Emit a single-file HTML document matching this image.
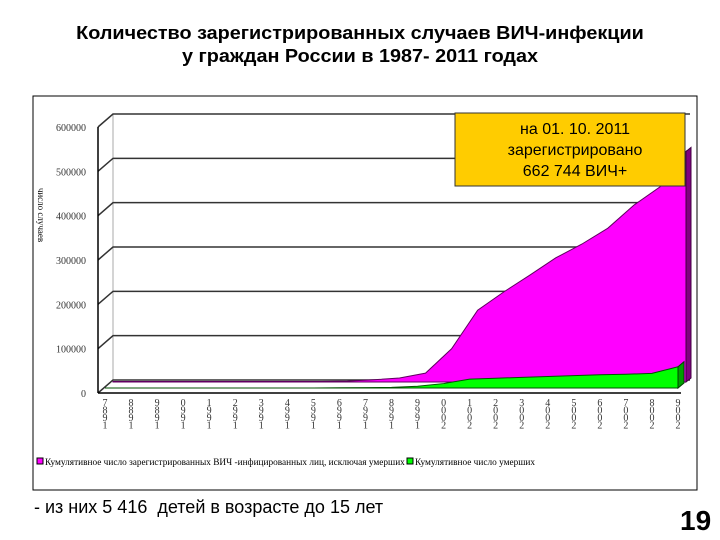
<!DOCTYPE html>
<html><head><meta charset="utf-8"><style>
body{margin:0;width:720px;height:540px;background:#fff;overflow:hidden;position:relative;font-family:"Liberation Sans",sans-serif}
#title{position:absolute;left:0;top:22px;width:720px;text-align:center;font-weight:bold;font-size:18px;line-height:23px;color:#000;transform:scaleX(1.1);transform-origin:360px 0}
#note{position:absolute;left:34px;top:497px;font-size:18px}
#page{position:absolute;left:680px;top:505px;font-size:28px;font-weight:bold}
</style></head><body>
<div id="title">Количество зарегистрированных случаев ВИЧ-инфекции<br>у граждан России в 1987- 2011 годах</div>
<svg id="chart" width="720" height="540" style="position:absolute;left:0;top:0">
<rect x="33" y="96" width="664" height="394" fill="#fff" stroke="#000" stroke-width="1"/>
<g id="g"></g>
</svg>
<div id="note">- из них 5 416&nbsp; детей в возрасте до 15 лет</div>
<div id="page">19</div>
<script>
const years=[1987,1988,1989,1990,1991,1992,1993,1994,1995,1996,1997,1998,1999,2000,2001,2002,2003,2004,2005,2006,2007,2008,2009];
const living=[1000,1000,1000,1000,1000,1000,1000,1000,1000,2000,5000,9000,20000,75000,162000,203000,241000,280000,311000,347000,399000,440000,520000];
const deaths=[0,0,0,0,0,0,0,0,0,500,800,1500,4000,10000,20000,22000,24000,26000,28000,30000,31000,33000,48000];
const yTicks=[0,100000,200000,300000,400000,500000,600000];
const NS="http://www.w3.org/2000/svg";
const g=document.getElementById('g');
const x0=105,dx=(678-105)/22,y0=393,k=266/600000,ox=15,oy=-13;
const X=i=>x0+i*dx, Y=v=>y0-v*k;
function el(t,a){const e=document.createElementNS(NS,t);for(const n in a)e.setAttribute(n,a[n]);g.appendChild(e);return e;}
let w=el('path',{d:`M98,${Y(0)} L${98+ox},${Y(0)+oy} L${98+ox},${Y(600000)+oy} M${98+ox},${Y(0)+oy} L690,${Y(0)+oy}`,fill:'none',stroke:'#aaa'});

yTicks.forEach(v=>{
 const l=el('path',{d:`M98,${Y(v)} L${98+ox},${Y(v)+oy} L690,${Y(v)+oy}`,fill:'none',stroke:'#333','stroke-width':1.5});
 
 const t=el('text',{x:86,y:Y(v)+4,'text-anchor':'end','font-size':10,'font-family':'Liberation Serif, serif',fill:'#333'});t.textContent=v;
 
});
const ax=el('line',{x1:98,y1:Y(0),x2:98,y2:Y(600000),stroke:'#000','stroke-width':1.5});

const yt=el('text',{x:0,y:0,transform:'translate(38,215) rotate(90)','text-anchor':'middle','font-size':9,'font-family':'Liberation Serif, serif'});yt.textContent='число случаев';

const mb=8,mo=-11;
let d=`M${X(0)+mb},${Y(0)+mo}`;living.forEach((v,i)=>d+=` L${X(i)+mb},${Y(v)+mo}`);d+=` L${X(22)+mb},${Y(0)+mo}Z`;
const m=el('path',{d,fill:'#ff00ff',stroke:'#600060','stroke-width':1});

const ms=el('path',{d:`M${X(22)+mb},${Y(living[22])+mo} L${X(22)+mb+5},${Y(living[22])+mo-4} L${X(22)+mb+5},${Y(0)+mo-4} L${X(22)+mb},${Y(0)+mo}Z`,fill:'#800080',stroke:'#400040'});

const go=-5;
d=`M${X(0)},${Y(0)+go}`;deaths.forEach((v,i)=>d+=` L${X(i)},${Y(v)+go}`);d+=` L${X(22)},${Y(0)+go}Z`;
const gr=el('path',{d,fill:'#00ff00',stroke:'#005000','stroke-width':1});

const gs=el('path',{d:`M${X(22)},${Y(deaths[22])+go} L${X(22)+6},${Y(deaths[22])+go-5} L${X(22)+6},${Y(0)+go-5} L${X(22)},${Y(0)+go}Z`,fill:'#00a000',stroke:'#004000'});

const xa=el('line',{x1:98,y1:Y(0),x2:X(22)+3,y2:Y(0),stroke:'#000','stroke-width':1.5});

years.forEach((yr,i)=>{
 const s=String(yr).split('').reverse();
 s.forEach((c,j)=>{const t=el('text',{x:X(i),y:Y(0)+13+j*7.5,'text-anchor':'middle','font-size':10,'font-family':'Liberation Serif, serif',fill:'#333'});t.textContent=c;
 });
});
const br=el('rect',{x:455,y:113,width:230,height:73,fill:'#ffcc00',stroke:'#333'});

['на   01. 10. 2011','зарегистрировано','662 744 ВИЧ+'].forEach((s,i)=>{const t=el('text',{x:575,y:134+i*21,'text-anchor':'middle','font-size':16,'font-family':'Liberation Sans, sans-serif','xml:space':'preserve'});t.textContent=s;
 });
const l1=el('rect',{x:37,y:458,width:6,height:6,fill:'#ff00ff',stroke:'#000'});

const t1=el('text',{x:45,y:465,'font-size':9.3,'font-family':'Liberation Serif, serif'});t1.textContent='Кумулятивное число зарегистрированных ВИЧ -инфицированных  лиц, исключая умерших';

const l2=el('rect',{x:407,y:458,width:6,height:6,fill:'#00ff00',stroke:'#000'});

const t2=el('text',{x:415,y:465,'font-size':9.3,'font-family':'Liberation Serif, serif'});t2.textContent='Кумулятивное число умерших';

</script>
</body></html>
